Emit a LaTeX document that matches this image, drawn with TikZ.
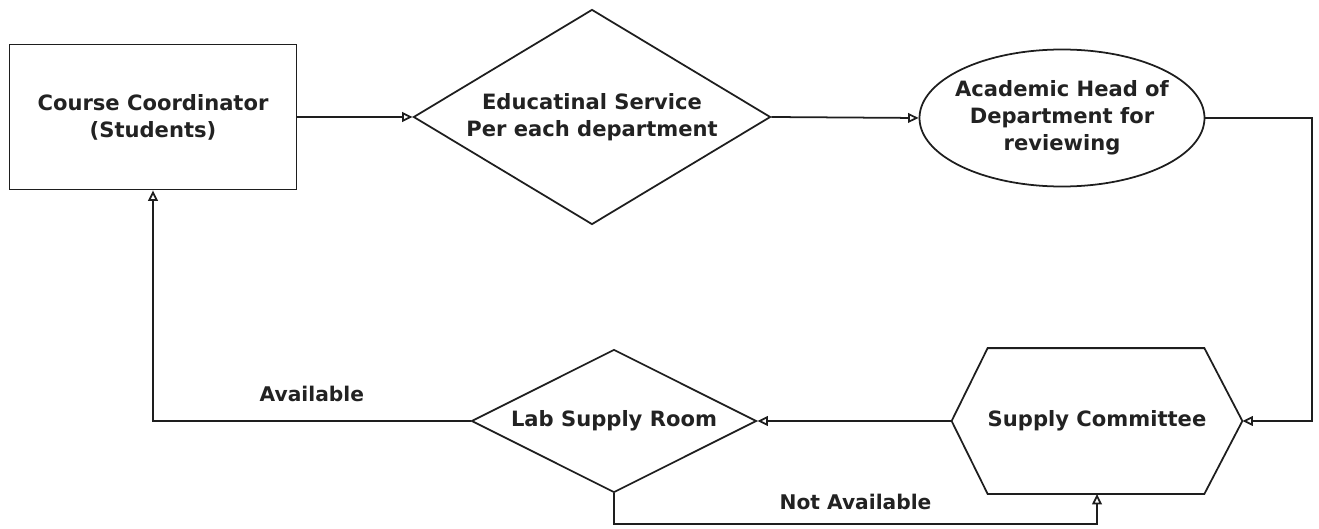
\documentclass[tikz,border=0pt]{standalone}
\usepackage{fontspec}
\setmainfont{DejaVu Sans}
\usepackage{xcolor}
\definecolor{inkdark}{RGB}{30, 30, 30}
\definecolor{labeltext}{RGB}{34, 34, 34}
\usepackage{tikz}
\usetikzlibrary{arrows.meta, positioning, calc, shapes.geometric}

\begin{document}
\begin{tikzpicture}[x=0.02cm, y=0.02cm, >={Triangle[open, length=6pt, width=5.5pt]},
    box/.style={draw=inkdark, line width=1pt, align=center, text=labeltext,
        font=\bfseries\fontsize{12}{15.5}\selectfont, inner sep=0pt},
    flow/.style={->, draw=inkdark, line width=1pt},
    tag/.style={text=labeltext, font=\bfseries\fontsize{11.5}{14}\selectfont}]
    \useasboundingbox (0,0) rectangle (1319,528);

    \node[box, rectangle, minimum width=287*0.02cm, minimum height=145*0.02cm] (coord) at (153,411) {Course Coordinator\\(Students)};
    \node[box, diamond, aspect=1.66, minimum width=357*0.02cm, minimum height=215*0.02cm] (edu) at (592,411) {Educatinal Service\\Per each department};
    \node[box, ellipse, inner xsep=-4pt, minimum width=285*0.02cm, minimum height=137*0.02cm] (head) at (1062,410) {Academic Head of\\Department for\\reviewing};
    \node[box, draw=none, minimum width=289*0.02cm, minimum height=144*0.02cm] (comm) at (1097,107) {Supply Committee};
    \draw[box] (comm.west) -- ($(comm.north west)+(36,0)$) -- ($(comm.north east)+(-38,0)$) -- (comm.east)
        -- ($(comm.south east)+(-38,0)$) -- ($(comm.south west)+(36,0)$) -- cycle;
    \node[box, diamond, aspect=2, minimum width=285*0.02cm, minimum height=143*0.02cm] (lab) at (614,107) {Lab Supply Room};

    \coordinate (rturn) at (1312,410);
    \coordinate (lbot) at (614,4);

    \draw[flow] (coord.east) -- (edu.west);
    \draw[flow] (edu.east) -- (head.west);
    \draw[flow] (head.east) -- (rturn) |- (comm.east);
    \draw[flow] (comm.west) -- (lab.east);
    \draw[flow] (lab.west) -| node[tag, pos=0.25, above=7pt] {Available} (coord.south);
    \draw[flow] (lab.south) -- (lbot) -| node[tag, pos=0.25, above=4pt] {Not Available} (comm.south);
\end{tikzpicture}
\end{document}
